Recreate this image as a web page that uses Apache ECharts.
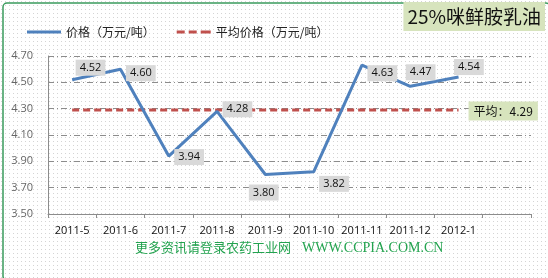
<!DOCTYPE html>
<html><head><meta charset="utf-8">
<script src="https://cdn.jsdelivr.net/npm/echarts@6/dist/echarts.min.js"></script>
<style>html,body{margin:0;padding:0;background:#fff}#c{width:548px;height:278px}</style>
</head><body><div id="c"></div>
<script>
const categories = ['2011-5','2011-6','2011-7','2011-8','2011-9','2011-10','2011-11','2011-12','2012-1',''];
const prices = [4.52, 4.60, 3.94, 4.28, 3.80, 3.82, 4.63, 4.47, 4.54];
const avgValue = 4.29;
const avgSeries = [4.29, 4.29, 4.29, 4.29, 4.29, 4.29, 4.29, 4.29, 4.29];
const labelOffsets = [[-2,-12],[0,4],[0,1],[0,-2],[-22,18],[0,12],[0,8],[-10,-14],[-10,-10]];

const pc = document.createElement('canvas');
pc.width = 4; pc.height = 4;
const g = pc.getContext('2d');
g.fillStyle = '#ffffff'; g.fillRect(0,0,4,4);
g.fillStyle = '#d4d4d4'; g.fillRect(1,1,1,1);

const chart = echarts.init(document.getElementById('c'), null, {renderer:'canvas'});
const font = 'Open Sans, Liberation Sans, sans-serif';
chart.setOption({
  backgroundColor: {image: pc, repeat: 'repeat'},
  animation: false,
  title: {
    text: '25%咪鲜胺乳油', right: 3, top: 2,
    backgroundColor: '#d7e4bd', padding: [5, 4, 5, 4],
    textStyle: {fontSize: 19, fontWeight: 'normal', color: '#111', fontFamily: 'Noto Sans CJK SC, sans-serif'}
  },
  legend: {
    left: 22, top: 21, itemGap: 22, itemWidth: 34, itemHeight: 10,
    textStyle: {fontSize: 12, color: '#222', fontFamily: 'Noto Sans CJK SC, sans-serif'},
    data: [
      {name:'价格（万元/吨）', icon:'path://M0,4L34,4L34,7L0,7Z', itemStyle: {color: '#4f81bd'}},
      {name:'平均价格（万元/吨）', icon:'path://M0,4h8v3h-8z M12,4h8v3h-8z M24,4h10v3h-10z', itemStyle: {color: '#c0504d'}}
    ]
  },
  grid: {left: 48, right: 17, top: 56, bottom: 64, containLabel: false},
  xAxis: {
    type: 'category', data: categories, boundaryGap: true,
    axisLine: {lineStyle: {color: '#8c8c8c'}},
    axisTick: {show: true, alignWithLabel: false, length: 4, lineStyle: {color: '#8c8c8c'}},
    axisLabel: {color: '#111', fontSize: 11, fontFamily: font, margin: 11, interval: 0}
  },
  yAxis: {
    type: 'value', min: 3.5, max: 4.7, interval: 0.2,
    axisLine: {show: true, lineStyle: {color: '#8c8c8c'}},
    axisTick: {show: false},
    axisLabel: {color: '#666', fontSize: 11, fontFamily: font, margin: 15, formatter: v => v.toFixed(2)},
    splitLine: {lineStyle: {color: '#8c8c8c', type: [6,3,1,3], width: 1}}
  },
  series: [
    {
      name: '平均价格（万元/吨）', type: 'line', data: avgSeries, symbol: 'none', z: 2,
      lineStyle: {color: '#c0504d', width: 3, type: [7,4]},
      itemStyle: {color: '#c0504d'},
      label: {show: false},
      endLabel: {show: true, formatter: () => '平均：' + avgValue.toFixed(2), offset: [2, 1],
        backgroundColor: '#d7e4bd', padding: [4, 5, 3, 5], color: '#111', fontSize: 12,
        fontFamily: 'Noto Sans CJK SC, sans-serif'}
    },
    {
      name: '价格（万元/吨）', type: 'line', symbol: 'circle', symbolSize: 1, showSymbol: true, z: 3,
      lineStyle: {color: '#4f81bd', width: 3},
      itemStyle: {color: 'rgba(0,0,0,0)', borderWidth: 0},
      data: prices.map((v, i) => ({
        value: v,
        label: {show: true, position: 'right', offset: labelOffsets[i], formatter: p => p.value.toFixed(2),
          backgroundColor: '#d9d9d9', padding: [3, 4, 2, 4], color: '#111', fontSize: 11, fontFamily: font}
      }))
    }
  ],
  graphic: [
    {type: 'rect', left: 0.5, top: 0.5, shape: {width: 547, height: 277, r: 4}, silent: true,
      style: {fill: 'none', stroke: '#3a9a5c', lineWidth: 1.5}},
    {type: 'text', left: 135, top: 241, silent: true,
      style: {text: '更多资讯请登录农药工业网', fill: '#23a34f', fontSize: 13,
        fontFamily: 'Noto Sans CJK SC, serif'}},
    {type: 'text', left: 302, top: 241, silent: true,
      style: {text: 'WWW.CCPIA.COM.CN', fill: '#23a34f', fontSize: 14,
        fontFamily: 'Liberation Serif, serif'}}
  ]
});
</script></body></html>
